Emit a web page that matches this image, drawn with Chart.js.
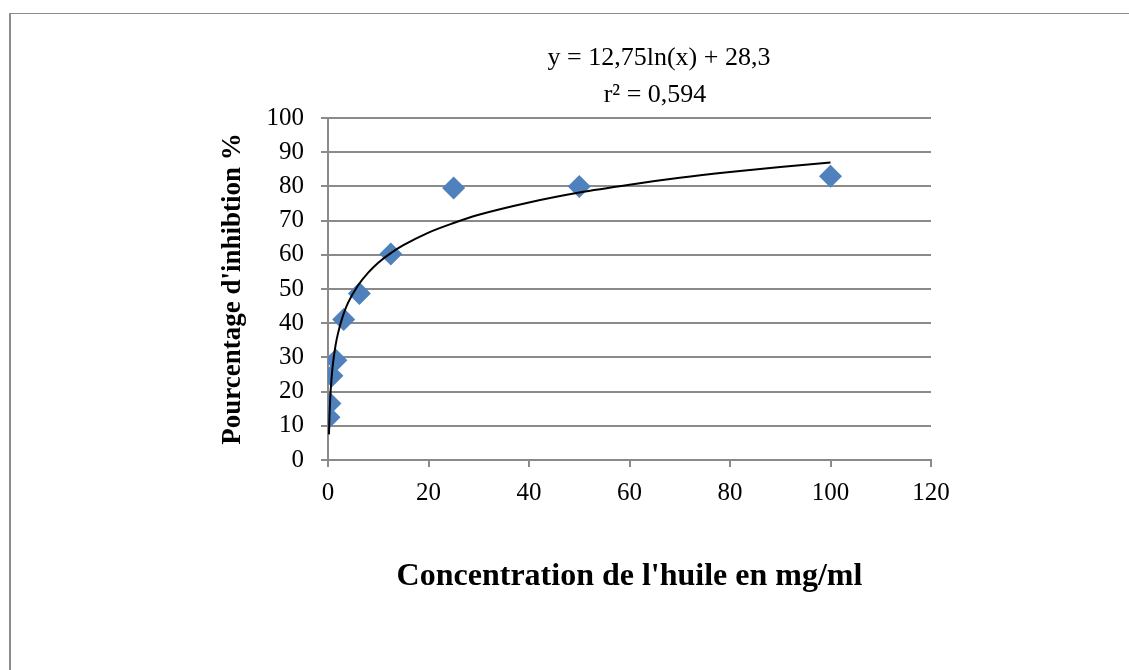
<!DOCTYPE html>
<html>
<head>
<meta charset="utf-8">
<script src="https://cdn.jsdelivr.net/npm/chart.js@4.4.1/dist/chart.umd.min.js"></script>
<style>
  html, body { margin: 0; padding: 0; background: #fff; }
  #wrap { width: 1129px; height: 670px; position: relative; }
</style>
</head>
<body>
<div id="wrap"><canvas id="chartInhibition" width="1129" height="670"></canvas></div>
<script>
// Données
const concentrations = [0.195, 0.39, 0.78, 1.5625, 3.125, 6.25, 12.5, 25, 50, 100];
const inhibition = [12.5, 16.5, 24.6, 29.2, 41.1, 48.7, 60.2, 79.5, 80.0, 83.0];

// Courbe de tendance (points relevés le long de la courbe)
const trendX = [0.195, 0.25, 0.3, 0.4, 0.5, 0.6, 0.8, 1, 1.5, 2, 3, 4, 6, 8, 10, 12.5, 15, 20, 25, 30, 40, 50, 60, 70, 80, 90, 100];
const trendY = [7.5, 10.6, 13.0, 16.6, 19.5, 21.8, 25.5, 28.3, 33.5, 37.1, 42.3, 46.0, 51.1, 54.8, 57.7, 60.5, 62.8, 66.5, 69.3, 71.7, 75.3, 78.2, 80.5, 82.5, 84.2, 85.7, 87.0];

const equationLabels = ['y = 12,75ln(x) + 28,3', 'r\u00B2 = 0,594'];

const xTicks = [0, 20, 40, 60, 80, 100, 120];
const yTicks = [0, 10, 20, 30, 40, 50, 60, 70, 80, 90, 100];

const serif = '"Liberation Serif", "Times New Roman", serif';
const gridGray = '#8a8a8a';
const markerBlue = '#4f81bd';

// Cadre et équation dessinés sur le canvas
const decorPlugin = {
    id: 'decor',
    beforeDraw(chart) {
        const ctx = chart.ctx;
        ctx.save();
        ctx.strokeStyle = '#8c8c8c';
        ctx.lineWidth = 1;
        ctx.beginPath();
        ctx.moveTo(9, 13.5);
        ctx.lineTo(1129, 13.5);
        ctx.stroke();
        ctx.lineWidth = 2;
        ctx.beginPath();
        ctx.moveTo(10, 13);
        ctx.lineTo(10, 670);
        ctx.stroke();
        ctx.restore();
    },
    afterDraw(chart) {
        const ctx = chart.ctx;
        ctx.save();
        ctx.fillStyle = '#000';
        ctx.font = '26px ' + serif;
        ctx.textAlign = 'center';
        ctx.textBaseline = 'alphabetic';
        ctx.fillText(equationLabels[0], 659, 65);
        ctx.fillText(equationLabels[1], 655, 102);
        ctx.restore();
    }
};

const canvas = document.getElementById('chartInhibition');

const chart = new Chart(canvas, {
    type: 'scatter',
    data: {
        datasets: [
            {
                label: 'Inhibition',
                data: concentrations.map((c, i) => ({ x: c, y: inhibition[i] })),
                pointStyle: 'rectRot',
                pointRadius: 11.5,
                pointHoverRadius: 11.5,
                backgroundColor: markerBlue,
                borderColor: markerBlue,
                borderWidth: 0,
                showLine: false,
                order: 1
            },
            {
                label: 'Tendance',
                data: trendX.map((x, i) => ({ x: x, y: trendY[i] })),
                showLine: true,
                borderColor: '#000',
                borderWidth: 2,
                pointRadius: 0,
                cubicInterpolationMode: 'monotone',
                fill: false,
                order: 0
            }
        ]
    },
    options: {
        responsive: false,
        animation: false,
        events: [],
        layout: {
            padding: { top: 118, left: 217, right: 198, bottom: 74 }
        },
        plugins: {
            legend: { display: false },
            tooltip: { enabled: false }
        },
        scales: {
            x: {
                type: 'linear',
                min: 0,
                max: 120,
                afterBuildTicks: scale => { scale.ticks = xTicks.map(v => ({ value: v })); },
                afterFit: scale => { scale.height = 136; },
                border: { display: true, color: gridGray, width: 2 },
                grid: { drawOnChartArea: false, drawTicks: true, tickLength: 7, color: gridGray, lineWidth: 2 },
                ticks: { color: '#000', padding: 11, maxRotation: 0, font: { family: serif, size: 25 } },
                title: {
                    display: true,
                    text: "Concentration de l'huile en mg/ml",
                    color: '#000',
                    padding: 0,
                    font: { family: serif, size: 32, weight: 'bold' }
                }
            },
            y: {
                type: 'linear',
                min: 0,
                max: 100,
                afterBuildTicks: scale => { scale.ticks = yTicks.map(v => ({ value: v })); },
                afterFit: scale => { scale.width = 111; },
                border: { display: true, color: gridGray, width: 2 },
                grid: { drawTicks: true, tickLength: 7, color: gridGray, lineWidth: 2 },
                ticks: { color: '#000', padding: 17, font: { family: serif, size: 25 } },
                title: {
                    display: true,
                    text: "Pourcentage d'inhibtion %",
                    color: '#000',
                    padding: 0,
                    font: { family: serif, size: 27, weight: 'bold' }
                }
            }
        }
    },
    plugins: [decorPlugin]
});
</script>
</body>
</html>
